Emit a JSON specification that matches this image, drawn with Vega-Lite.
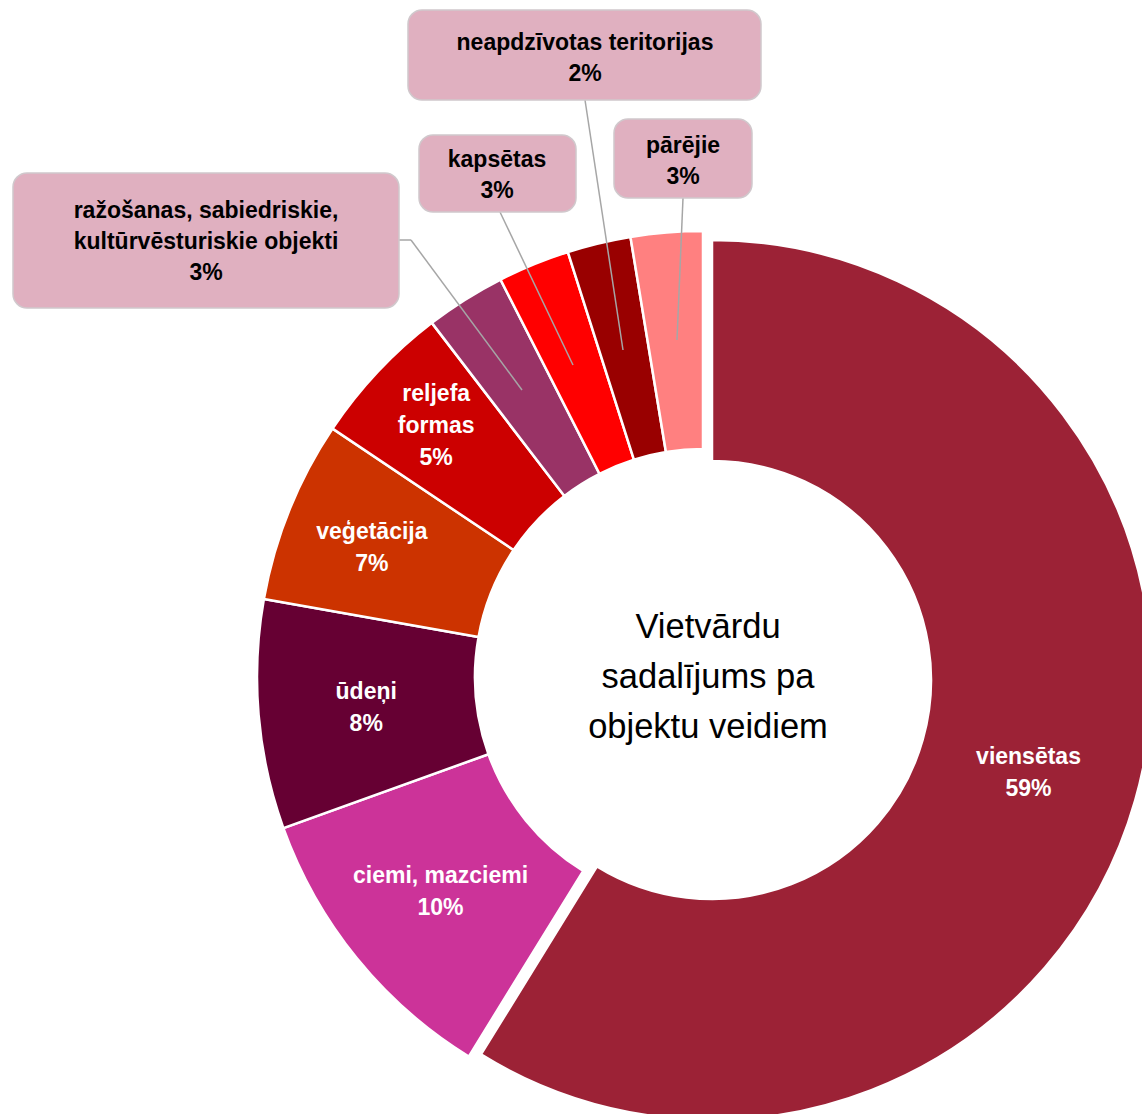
{
  "$schema": "https://vega.github.io/schema/vega-lite/v6.json",
  "width": 1142,
  "height": 1114,
  "padding": 0,
  "autosize": {"type": "none"},
  "background": "white",
  "config": {"view": {"stroke": null}, "font": "Liberation Sans"},
  "datasets": {
    "slices": [
      {"idx": 1, "cat": "viensētas", "value": 58.8, "lbl": "viensētas\n59%"},
      {"idx": 2, "cat": "ciemi, mazciemi", "value": 10.7, "lbl": "ciemi, mazciemi\n10%"},
      {"idx": 3, "cat": "ūdeņi", "value": 8.3, "lbl": "ūdeņi\n8%"},
      {"idx": 4, "cat": "veģetācija", "value": 6.6, "lbl": "veģetācija\n7%"},
      {"idx": 5, "cat": "reljefa formas", "value": 5.2, "lbl": "reljefa\nformas\n5%"},
      {"idx": 6, "cat": "ražošanas, sabiedriskie, kultūrvēsturiskie objekti", "value": 2.9, "lbl": "ražošanas, sabiedriskie,\nkultūrvēsturiskie objekti\n3%"},
      {"idx": 7, "cat": "kapsētas", "value": 2.6, "lbl": "kapsētas\n3%"},
      {"idx": 8, "cat": "neapdzīvotas teritorijas", "value": 2.3, "lbl": "neapdzīvotas teritorijas\n2%"},
      {"idx": 9, "cat": "pārējie", "value": 2.6, "lbl": "pārējie\n3%"}
    ],
    "boxes": [
      {"cat": "ražošanas, sabiedriskie, kultūrvēsturiskie objekti", "x1": -690, "x2": -304, "y1": 369, "y2": 504, "tx": -497, "ty": 435},
      {"cat": "kapsētas", "x1": -284, "x2": -127, "y1": 465, "y2": 542, "tx": -206, "ty": 502},
      {"cat": "neapdzīvotas teritorijas", "x1": -295, "x2": 58, "y1": 577, "y2": 667, "tx": -118, "ty": 619},
      {"cat": "pārējie", "x1": -89, "x2": 49, "y1": 479, "y2": 558, "tx": -20, "ty": 516}
    ],
    "leaders": [
      {"cat": "ražošanas, sabiedriskie, kultūrvēsturiskie objekti", "x1": -304, "y1": 437, "x2": -292, "y2": 437},
      {"cat": "ražošanas, sabiedriskie, kultūrvēsturiskie objekti", "x1": -292, "y1": 437, "x2": -181, "y2": 287},
      {"cat": "kapsētas", "x1": -203, "y1": 465, "x2": -130, "y2": 312},
      {"cat": "neapdzīvotas teritorijas", "x1": -118, "y1": 577, "x2": -80, "y2": 327},
      {"cat": "pārējie", "x1": -20, "y1": 479, "x2": -26, "y2": 337}
    ]
  },
  "layer": [
    {
      "data": {"name": "slices"},
      "mark": {"type": "arc", "outerRadius": 446, "innerRadius": 228, "stroke": "white", "strokeWidth": 2.5},
      "encoding": {
        "x": {"datum": 0, "type": "quantitative", "scale": {"domain": [-703, 439], "nice": false, "zero": false}, "axis": null},
        "y": {"datum": 0, "type": "quantitative", "scale": {"domain": [-437, 677], "nice": false, "zero": false}, "axis": null},
        "theta": {"field": "value", "type": "quantitative", "stack": true},
        "order": {"field": "idx", "type": "quantitative"},
        "color": {"field": "cat", "type": "nominal", "legend": null,
          "scale": {"domain": ["viensētas", "ciemi, mazciemi", "ūdeņi", "veģetācija", "reljefa formas", "ražošanas, sabiedriskie, kultūrvēsturiskie objekti", "kapsētas", "neapdzīvotas teritorijas", "pārējie"],
                    "range": ["#9C2236", "#CC3399", "#660033", "#CC3300", "#CC0000", "#993366", "#FF0000", "#990000", "#FF8080"]}},
        "opacity": {"condition": {"test": "datum.idx === 1", "value": 0}, "value": 1}
      }
    },
    {
      "data": {"name": "slices"},
      "mark": {"type": "arc", "outerRadius": 440, "innerRadius": 219, "stroke": "white", "strokeWidth": 2.5},
      "encoding": {
        "x": {"datum": 9, "type": "quantitative", "scale": {"domain": [-703, 439], "nice": false, "zero": false}, "axis": null},
        "y": {"datum": -3, "type": "quantitative", "scale": {"domain": [-437, 677], "nice": false, "zero": false}, "axis": null},
        "theta": {"field": "value", "type": "quantitative", "stack": true},
        "order": {"field": "idx", "type": "quantitative"},
        "color": {"field": "cat", "type": "nominal", "legend": null,
          "scale": {"domain": ["viensētas", "ciemi, mazciemi", "ūdeņi", "veģetācija", "reljefa formas", "ražošanas, sabiedriskie, kultūrvēsturiskie objekti", "kapsētas", "neapdzīvotas teritorijas", "pārējie"],
                    "range": ["#9C2236", "#CC3399", "#660033", "#CC3300", "#CC0000", "#993366", "#FF0000", "#990000", "#FF8080"]}},
        "opacity": {"condition": {"test": "datum.idx === 1", "value": 1}, "value": 0}
      }
    },
    {
      "data": {"name": "slices"},
      "mark": {"type": "text", "radius": 329, "dy": -13, "fontSize": 23, "fontWeight": "bold", "fill": "white", "lineBreak": "\n", "lineHeight": 32, "align": "center", "baseline": "middle"},
      "encoding": {
        "x": {"datum": 9, "type": "quantitative", "scale": {"domain": [-703, 439], "nice": false, "zero": false}, "axis": null},
        "y": {"datum": -3, "type": "quantitative", "scale": {"domain": [-437, 677], "nice": false, "zero": false}, "axis": null},
        "theta": {"field": "value", "type": "quantitative", "stack": true},
        "order": {"field": "idx", "type": "quantitative"},
        "detail": {"field": "cat", "type": "nominal"},
        "text": {"field": "lbl", "type": "nominal"},
        "opacity": {"condition": {"test": "datum.idx === 1", "value": 1}, "value": 0}
      }
    },
    {
      "data": {"name": "slices"},
      "mark": {"type": "text", "radius": 338, "dy": -13.5, "fontSize": 23, "fontWeight": "bold", "fill": "white", "lineBreak": "\n", "lineHeight": 32, "align": "center", "baseline": "middle"},
      "encoding": {
        "x": {"datum": 0, "type": "quantitative", "scale": {"domain": [-703, 439], "nice": false, "zero": false}, "axis": null},
        "y": {"datum": 0, "type": "quantitative", "scale": {"domain": [-437, 677], "nice": false, "zero": false}, "axis": null},
        "theta": {"field": "value", "type": "quantitative", "stack": true},
        "order": {"field": "idx", "type": "quantitative"},
        "detail": {"field": "cat", "type": "nominal"},
        "text": {"field": "lbl", "type": "nominal"},
        "opacity": {"condition": {"test": "datum.idx === 2 || datum.idx === 3", "value": 1}, "value": 0}
      }
    },
    {
      "data": {"name": "slices"},
      "mark": {"type": "text", "radius": 357, "dy": -11, "fontSize": 23, "fontWeight": "bold", "fill": "white", "lineBreak": "\n", "lineHeight": 32, "align": "center", "baseline": "middle"},
      "encoding": {
        "x": {"datum": 0, "type": "quantitative", "scale": {"domain": [-703, 439], "nice": false, "zero": false}, "axis": null},
        "y": {"datum": 0, "type": "quantitative", "scale": {"domain": [-437, 677], "nice": false, "zero": false}, "axis": null},
        "theta": {"field": "value", "type": "quantitative", "stack": true},
        "order": {"field": "idx", "type": "quantitative"},
        "detail": {"field": "cat", "type": "nominal"},
        "text": {"field": "lbl", "type": "nominal"},
        "opacity": {"condition": {"test": "datum.idx === 4", "value": 1}, "value": 0}
      }
    },
    {
      "data": {"name": "slices"},
      "mark": {"type": "text", "radius": 366, "dy": -32, "fontSize": 23, "fontWeight": "bold", "fill": "white", "lineBreak": "\n", "lineHeight": 32, "align": "center", "baseline": "middle"},
      "encoding": {
        "x": {"datum": 0, "type": "quantitative", "scale": {"domain": [-703, 439], "nice": false, "zero": false}, "axis": null},
        "y": {"datum": 0, "type": "quantitative", "scale": {"domain": [-437, 677], "nice": false, "zero": false}, "axis": null},
        "theta": {"field": "value", "type": "quantitative", "stack": true},
        "order": {"field": "idx", "type": "quantitative"},
        "detail": {"field": "cat", "type": "nominal"},
        "text": {"field": "lbl", "type": "nominal"},
        "opacity": {"condition": {"test": "datum.idx === 5", "value": 1}, "value": 0}
      }
    },
    {
      "data": {"name": "leaders"},
      "mark": {"type": "rule", "stroke": "#A6A6A6", "strokeWidth": 1.5},
      "encoding": {
        "x": {"field": "x1", "type": "quantitative", "scale": {"domain": [-703, 439], "nice": false, "zero": false}, "axis": null},
        "y": {"field": "y1", "type": "quantitative", "scale": {"domain": [-437, 677], "nice": false, "zero": false}, "axis": null},
        "x2": {"field": "x2"},
        "y2": {"field": "y2"}
      }
    },
    {
      "data": {"name": "boxes"},
      "mark": {"type": "rect", "cornerRadius": 14, "fill": "#E0B0C0", "stroke": "#D0C8CC", "strokeWidth": 1.5},
      "encoding": {
        "x": {"field": "x1", "type": "quantitative", "scale": {"domain": [-703, 439], "nice": false, "zero": false}, "axis": null},
        "x2": {"field": "x2"},
        "y": {"field": "y1", "type": "quantitative", "scale": {"domain": [-437, 677], "nice": false, "zero": false}, "axis": null},
        "y2": {"field": "y2"}
      }
    },
    {
      "data": {"name": "boxes"},
      "transform": [
        {"filter": "datum.cat === 'ražošanas, sabiedriskie, kultūrvēsturiskie objekti'"},
        {"lookup": "cat", "from": {"data": {"name": "slices"}, "key": "cat", "fields": ["lbl"]}}
      ],
      "mark": {"type": "text", "dy": -31, "fontSize": 23, "fontWeight": "bold", "fill": "black", "lineBreak": "\n", "lineHeight": 31, "align": "center", "baseline": "middle"},
      "encoding": {
        "x": {"field": "tx", "type": "quantitative", "scale": {"domain": [-703, 439], "nice": false, "zero": false}, "axis": null},
        "y": {"field": "ty", "type": "quantitative", "scale": {"domain": [-437, 677], "nice": false, "zero": false}, "axis": null},
        "text": {"field": "lbl", "type": "nominal"}
      }
    },
    {
      "data": {"name": "boxes"},
      "transform": [
        {"filter": "datum.cat !== 'ražošanas, sabiedriskie, kultūrvēsturiskie objekti'"},
        {"lookup": "cat", "from": {"data": {"name": "slices"}, "key": "cat", "fields": ["lbl"]}}
      ],
      "mark": {"type": "text", "dy": -15.5, "fontSize": 23, "fontWeight": "bold", "fill": "black", "lineBreak": "\n", "lineHeight": 31, "align": "center", "baseline": "middle"},
      "encoding": {
        "x": {"field": "tx", "type": "quantitative", "scale": {"domain": [-703, 439], "nice": false, "zero": false}, "axis": null},
        "y": {"field": "ty", "type": "quantitative", "scale": {"domain": [-437, 677], "nice": false, "zero": false}, "axis": null},
        "text": {"field": "lbl", "type": "nominal"}
      }
    },
    {
      "data": {"values": [{"title": "Vietvārdu\nsadalījums pa\nobjektu veidiem"}]},
      "mark": {"type": "text", "dy": -50, "fontSize": 34.5, "fill": "black", "lineBreak": "\n", "lineHeight": 50, "align": "center", "baseline": "middle"},
      "encoding": {
        "x": {"datum": 5, "type": "quantitative", "scale": {"domain": [-703, 439], "nice": false, "zero": false}, "axis": null},
        "y": {"datum": -1, "type": "quantitative", "scale": {"domain": [-437, 677], "nice": false, "zero": false}, "axis": null},
        "text": {"field": "title", "type": "nominal"}
      }
    }
  ]
}
